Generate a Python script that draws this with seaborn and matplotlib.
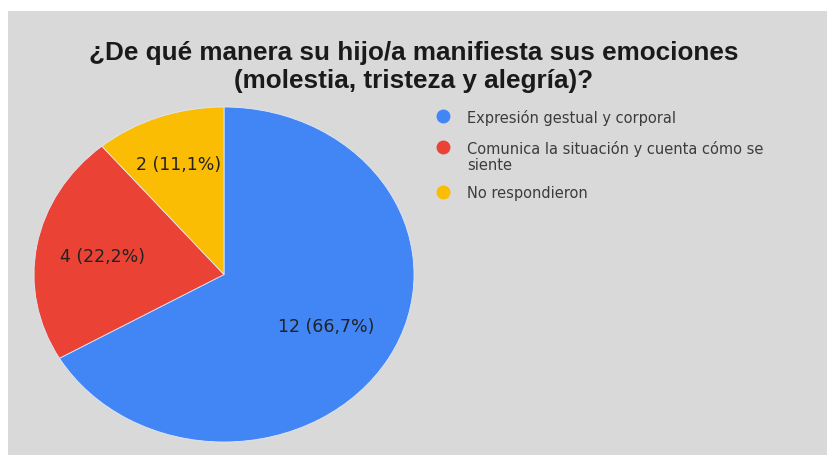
import matplotlib
matplotlib.use("Agg")
import matplotlib.pyplot as plt
from matplotlib.patches import Rectangle
from matplotlib.lines import Line2D
import numpy as np
import seaborn as sns

# Survey answers
categories = [
    "Expresión gestual y corporal",
    "Comunica la situación y cuenta cómo se\nsiente",
    "No respondieron",
]
counts = [12, 4, 2]
title = "¿De qué manera su hijo/a manifiesta sus emociones\n(molestia, tristeza y alegría)?"

sns.set_theme(style="white")
plt.rcParams["font.family"] = ["Liberation Sans", "DejaVu Sans"]
palette = sns.color_palette(["#4285F4", "#EA4335", "#FBBC04"])

W, H = 827, 456
fig = plt.figure(figsize=(W / 100, H / 100), dpi=100, facecolor="white")

# grey chart area
fig.patches.append(Rectangle((8 / W, 0), 1 - 8 / W, 1 - 12 / H,
                             transform=fig.transFigure, facecolor="#d9d9d9",
                             edgecolor="none", zorder=-5))

fig.text(0.5, 1 - 67 / H, title, ha="center", va="center", fontsize=18.8,
         fontweight="bold", color="#1a1a1a", linespacing=1.2)

# pie axes (stretched horizontally, as drawn)
ax = fig.add_axes([34 / W, 1 - 443 / H, 380 / W, 335 / H])
ax.set_zorder(2)
ax.patch.set_alpha(0)
wedges, _ = ax.pie(counts, colors=palette, startangle=90, counterclock=False,
                   radius=1, wedgeprops=dict(edgecolor="#dfe8f8", linewidth=0.6))
ax.set_aspect("auto")
ax.set_xlim(-1, 1)
ax.set_ylim(-1, 1)
ax.axis("off")

total = sum(counts)
label_dist = [0.62, 0.65, 0.70]
for w, c, d in zip(wedges, counts, label_dist):
    theta = np.deg2rad((w.theta1 + w.theta2) / 2)
    pct = f"{c / total * 100:.1f}".replace(".", ",")
    ax.text(d * np.cos(theta), d * np.sin(theta), f"{c} ({pct}%)",
            ha="center", va="center", fontsize=12.5, color="#222222",
            family=["DejaVu Sans"])

# legend
leg_y = [117, 148, 193]
for y, col, lab in zip(leg_y, palette, categories):
    fig.add_artist(Line2D([443 / W], [1 - y / H], marker="o", markersize=9,
                          color=col, linestyle="none",
                          transform=fig.transFigure))
    fig.text(467 / W, 1 - (y - 7) / H, lab, ha="left", va="top", fontsize=10.5,
             color="#3c3c3c", family=["DejaVu Sans"], linespacing=1.1)

fig.savefig("out.png", dpi=100, facecolor="white")
